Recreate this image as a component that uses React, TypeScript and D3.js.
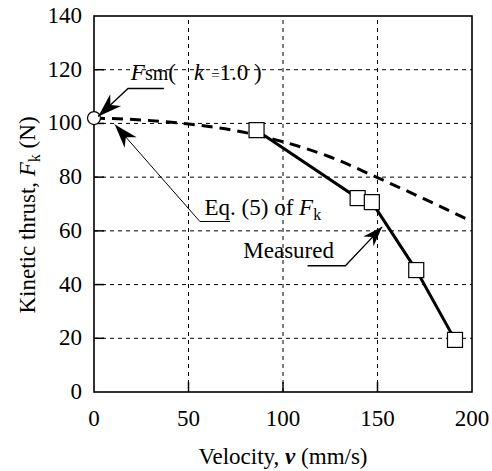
import React from "react";
import * as d3 from "d3";

// velocity (mm/s) and kinetic thrust (N)
const measuredV = [86, 139.5, 147, 170.5, 191];
const measuredF = [97.5, 72.2, 70.7, 45.4, 19.4];
const eqV = [0, 25, 50, 75, 100, 125, 150, 175, 200];
const eqF = [102, 101.3, 99.8, 97.3, 93.2, 87.5, 79.8, 71.8, 63.5];
const fsmV = [0];
const fsmF = [102];
const xTicks = [0, 50, 100, 150, 200];
const yTicks = [0, 20, 40, 60, 80, 100, 120, 140];

const W = 492, H = 471;
const TXT = { fontFamily: '"Liberation Serif"' };

function arrowHead(tx: number, ty: number, fx: number, fy: number, len: number, half: number) {
  const a = Math.atan2(ty - fy, tx - fx);
  const ux = Math.cos(a), uy = Math.sin(a);
  const px = -uy, py = ux;
  const bx = tx - ux * len, by = ty - uy * len;
  const nx = tx - ux * len * 0.7, ny = ty - uy * len * 0.7;
  return `M${tx},${ty}L${bx + px * half},${by + py * half}L${nx},${ny}L${bx - px * half},${by - py * half}Z`;
}

export default function App() {
  const x = d3.scaleLinear().domain([0, 200]).range([94, 472]);
  const y = d3.scaleLinear().domain([0, 140]).range([392, 16]);

  const eqLine = d3.line<number>().x((_, i) => x(eqV[i])).y((d) => y(d)).curve(d3.curveMonotoneX);
  const mLine = d3.line<number>().x((_, i) => x(measuredV[i])).y((d) => y(d));

  // annotations: tip, elbow, underline end (data units)
  const notes = [
    { tip: [2.2, 102.6], elbow: [18, 113], end: [37, 113], len: 24, half: 8, w: 1.3 },
    { tip: [11, 99.6], elbow: [56, 63.5], end: [72, 63.5], len: 24, half: 8, w: 1 },
    { tip: [152.5, 61.5], elbow: [133, 47], end: [113, 47], len: 20, half: 7, w: 1.3 },
  ];

  return (
    <svg width={W} height={H} style={{ position: "absolute", left: 0, top: 0, background: "#fff" }}>
      {/* grid */}
      {xTicks.slice(1, -1).map((t) => (
        <line key={"gx" + t} x1={x(t)} x2={x(t)} y1={y(0)} y2={y(140)} stroke="#000" strokeWidth={1} strokeDasharray="4,4" />
      ))}
      {yTicks.slice(1, -1).map((t) => (
        <line key={"gy" + t} x1={x(0)} x2={x(200)} y1={y(t)} y2={y(t)} stroke="#000" strokeWidth={1} strokeDasharray="4,4" />
      ))}
      {/* inward ticks */}
      {xTicks.slice(1, -1).map((t) => (
        <line key={"tx" + t} x1={x(t)} x2={x(t)} y1={y(0)} y2={y(0) - 10} stroke="#000" strokeWidth={1.5} />
      ))}
      {yTicks.slice(1, -1).map((t) => (
        <line key={"ty" + t} x1={x(0)} x2={x(0) + 10} y1={y(t)} y2={y(t)} stroke="#000" strokeWidth={1.5} />
      ))}
      <rect x={x(0)} y={y(140)} width={x(200) - x(0)} height={y(0) - y(140)} fill="none" stroke="#000" strokeWidth={1.6} />

      {/* Eq. (5) curve */}
      <path d={eqLine(eqF) || ""} fill="none" stroke="#000" strokeWidth={3} strokeDasharray="11,7" />
      {/* measured */}
      <path d={mLine(measuredF) || ""} fill="none" stroke="#000" strokeWidth={3} />
      {measuredF.map((f, i) => (
        <rect key={"m" + i} x={x(measuredV[i]) - 7.5} y={y(f) - 7.5} width={15} height={15} fill="#fff" stroke="#000" strokeWidth={1.2} />
      ))}
      {fsmF.map((f, i) => (
        <circle key={"c" + i} cx={x(fsmV[i])} cy={y(f)} r={6.5} fill="#fff" stroke="#000" strokeWidth={1.2} />
      ))}

      {/* annotations */}
      {notes.map((n, i) => {
        const tx = x(n.tip[0]), ty = y(n.tip[1]);
        const ex = x(n.elbow[0]), ey = y(n.elbow[1]);
        const ux = x(n.end[0]);
        return (
          <g key={"n" + i}>
            <polyline points={`${tx},${ty} ${ex},${ey} ${ux},${ey}`} fill="none" stroke="#000" strokeWidth={n.w} />
            <path d={arrowHead(tx, ty, ex, ey, n.len, n.half)} fill="#000" />
          </g>
        );
      })}
      <text x={x(19.5)} y={y(116)} fontSize={23} style={TXT}>
        <tspan fontStyle="italic">F</tspan>
        <tspan fontSize={20}>sm</tspan>
        <tspan>(</tspan>
        <tspan dx={18} fontStyle="italic">k</tspan>
        <tspan dx={7} fontSize={15}>=</tspan>
        <tspan>1.0 )</tspan>
      </text>
      <text x={x(58.5)} y={y(66)} fontSize={23} style={TXT}>
        Eq. (5) of <tspan fontStyle="italic">F</tspan>
        <tspan fontSize={16} dy={5}>k</tspan>
      </text>
      <text x={x(79)} y={y(50)} fontSize={23} style={TXT}>Measured</text>

      {/* tick labels */}
      {yTicks.map((t) => (
        <text key={"yl" + t} x={x(0) - 12} y={y(t) + 7} fontSize={23} textAnchor="end" style={TXT}>{t}</text>
      ))}
      {xTicks.map((t) => (
        <text key={"xl" + t} x={x(t)} y={y(0) + 34} fontSize={23} textAnchor="middle" style={TXT}>{t}</text>
      ))}

      {/* axis titles */}
      <text x={x(100)} y={464} fontSize={23} textAnchor="middle" style={TXT}>
        Velocity, <tspan fontStyle="italic" fontWeight="bold">v</tspan> (mm/s)
      </text>
      <text transform="translate(35,215) rotate(-90)" fontSize={23} textAnchor="middle" style={TXT}>
        Kinetic thrust, <tspan fontStyle="italic">F</tspan>
        <tspan fontSize={16} dy={5}>k</tspan>
        <tspan dy={-5}>  (N)</tspan>
      </text>
    </svg>
  );
}
